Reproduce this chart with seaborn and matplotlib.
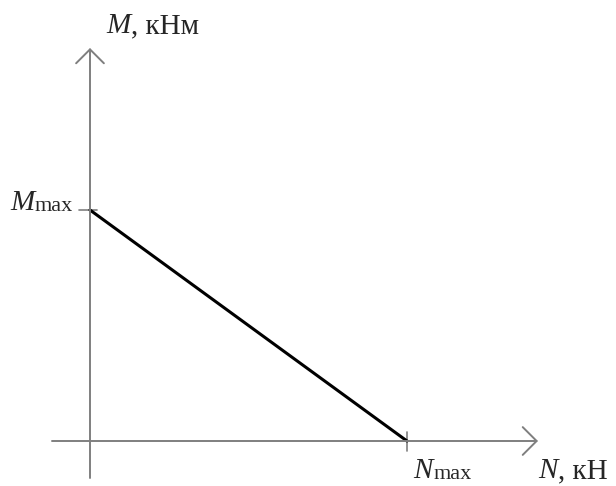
import pandas as pd
import matplotlib.pyplot as plt
import seaborn as sns

# Данные: линейная зависимость M(N) от M_max до N_max
N = [0.0, 1.0]
M = [1.0, 0.0]
x_label = ("N", ", кН")
y_label = ("M", ", кНм")
n_tick = ("N", "max")
m_tick = ("M", "max")

sns.set_style("white")
plt.rcParams['font.family'] = ['Liberation Serif', 'DejaVu Serif']

W, H = 616, 486
fig = plt.figure(figsize=(W / 100, H / 100), dpi=100)
ax = fig.add_axes([0, 0, 1, 1])

# пиксели -> данные
x0, sx = 90, 317
y0, sy = 441, 231
ax.set_xlim(-x0 / sx, (W - x0) / sx)
ax.set_ylim(-(H - y0) / sy, y0 / sy)
ax.axis('off')

def px(x):
    return (x - x0) / sx

def py(y):
    return (y0 - y) / sy

grey = '#7f7f7f'
arrow = dict(arrowstyle='->,head_length=0.5,head_width=0.5', color=grey,
             lw=1.4, shrinkA=0, shrinkB=0, mutation_scale=20)
# оси со стрелками
ax.annotate('', xy=(px(538), 0), xytext=(px(52), 0), arrowprops=arrow)
ax.annotate('', xy=(0, py(48)), xytext=(0, py(478)), arrowprops=arrow)

# засечки
ax.plot([px(79), px(97)], [M[0], M[0]], color=grey, lw=1.2)
ax.plot([N[1], N[1]], [py(432), py(451)], color=grey, lw=1.2)

df = pd.DataFrame({'N': N, 'M': M})
sns.lineplot(data=df, x='N', y='M', color='black', linewidth=2.2, ax=ax)

fs, fs_sub = 21, 16
renderer = fig.canvas.get_renderer()

def width_px(t):
    return t.get_window_extent(renderer).width

def label(x, y, parts, sub=False, right=False):
    main, rest = parts
    size2 = fs_sub if sub else fs
    dy = 1 if sub else 0
    if right:
        t2 = ax.text(px(x), py(y + dy), rest, fontsize=size2, ha='right', va='baseline')
        ax.text(px(x - width_px(t2)), py(y), main, fontsize=fs, style='italic',
                ha='right', va='baseline')
    else:
        t1 = ax.text(px(x), py(y), main, fontsize=fs, style='italic',
                     ha='left', va='baseline')
        ax.text(px(x + width_px(t1) + 1), py(y + dy), rest, fontsize=size2,
                ha='left', va='baseline')

label(106, 33, y_label)
label(538, 478, x_label)
label(73, 210, m_tick, sub=True, right=True)
label(413, 478, n_tick, sub=True)

fig.savefig('out.png', dpi=100)
